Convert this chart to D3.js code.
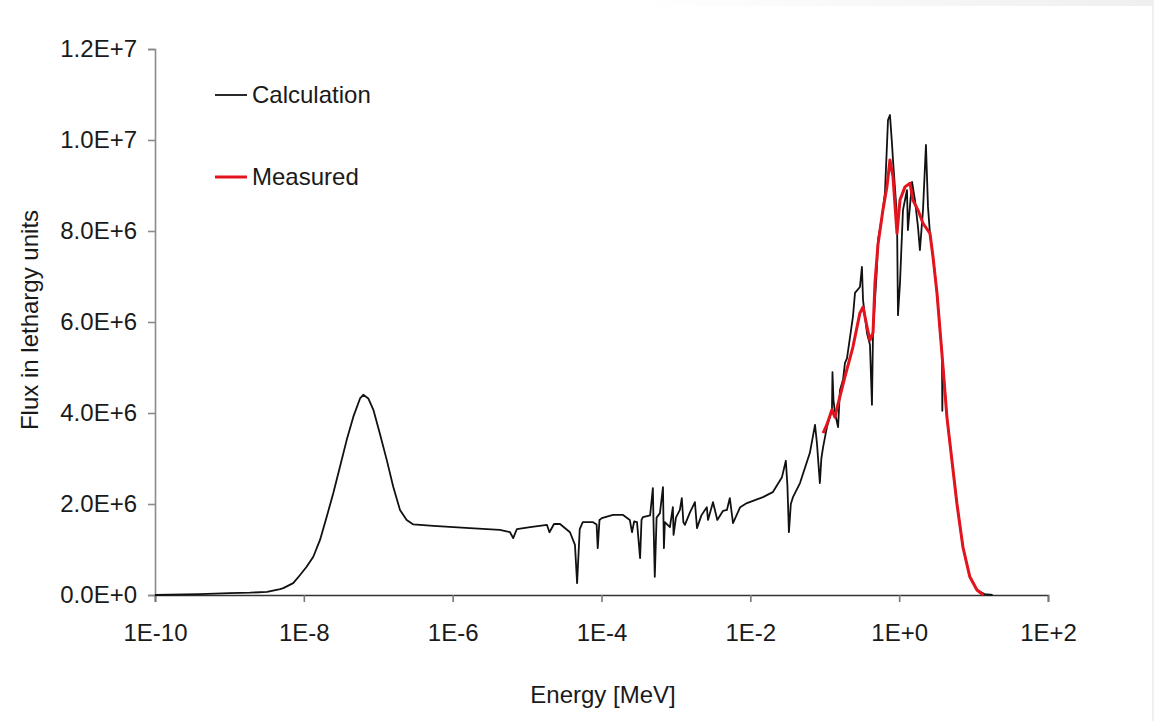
<!DOCTYPE html>
<html>
<head>
<meta charset="utf-8">
<script src="https://cdn.jsdelivr.net/npm/d3@7"></script>
<style>
  html, body { margin: 0; padding: 0; background: #fff; }
  svg { display: block; font-family: "Liberation Sans", Arial, sans-serif; }
</style>
</head>
<body>
<svg id="chart" width="1154" height="721"></svg>
<script>
// Flux values in millions (x 1E+6).
const calcEnergy = [
  1e-10, 4.0e-10, 1.0e-9, 1.9e-9, 3.2e-9, 4.8e-9, 5.3e-9, 7.2e-9, 8.9e-9, 1.09e-8,
  1.34e-8, 1.65e-8, 2.03e-8, 2.49e-8, 3.06e-8, 3.77e-8, 4.63e-8, 5.69e-8, 6.3e-8, 7.35e-8,
  8.6e-8, 1.05e-7, 1.3e-7, 1.59e-7, 1.96e-7, 2.41e-7, 2.96e-7, 5.5e-7, 1.7e-6, 4.3e-6,
  5.9e-6, 6.5e-6, 7.3e-6, 1.1e-5, 1.85e-5, 2.0e-5, 2.3e-5, 2.77e-5, 3.77e-5, 4.4e-5,
  4.7e-5, 5.1e-5, 5.6e-5, 7.7e-5, 8.6e-5, 8.9e-5, 9.4e-5, 1.01e-4, 1.43e-4, 1.95e-4,
  2.4e-4, 2.57e-4, 2.75e-4, 3.0e-4, 3.3e-4, 3.45e-4, 3.6e-4, 4.5e-4, 4.9e-4, 5.0e-4,
  5.2e-4, 5.5e-4, 6.1e-4, 6.7e-4, 6.9e-4, 7.1e-4, 8.3e-4, 9.1e-4, 9.3e-4, 1.0e-3,
  1.13e-3, 1.2e-3, 1.26e-3, 1.32e-3, 1.55e-3, 1.8e-3, 1.92e-3, 2.2e-3, 2.6e-3, 2.7e-3,
  3.15e-3, 3.6e-3, 4.3e-3, 4.85e-3, 5.3e-3, 5.85e-3, 7.3e-3, 9.0e-3, 1.48e-2, 2.0e-2,
  2.66e-2, 3.0e-2, 3.15e-2, 3.3e-2, 3.5e-2, 3.74e-2, 4.65e-2, 6.3e-2, 7.4e-2, 7.85e-2,
  8.6e-2, 9.0e-2, 9.5e-2, 0.107, 0.125, 0.127, 0.131, 0.137, 0.151, 0.16,
  0.176, 0.187, 0.199, 0.239, 0.255, 0.297, 0.316, 0.327, 0.369, 0.405,
  0.431, 0.445, 0.503, 0.519, 0.587, 0.644, 0.708, 0.752, 0.80, 0.826,
  0.935, 0.964, 1.026, 1.125, 1.273, 1.31, 1.49, 1.63, 1.79, 1.9,
  2.09, 2.29, 2.44, 2.59, 2.85, 3.22, 3.76, 3.80, 3.86, 4.39,
  5.98, 7.2, 8.9, 11.1, 14.0, 18.0
];
const calcFlux = [
  0.0, 0.02, 0.04, 0.05, 0.07, 0.13, 0.15, 0.26, 0.44, 0.62,
  0.84, 1.21, 1.72, 2.24, 2.82, 3.41, 3.92, 4.32, 4.40, 4.32,
  4.07, 3.55, 2.97, 2.38, 1.87, 1.65, 1.55, 1.52, 1.47, 1.43,
  1.38, 1.25, 1.45, 1.49, 1.54, 1.38, 1.56, 1.56, 1.38, 1.10,
  0.26, 1.45, 1.60, 1.60, 1.55, 1.03, 1.65, 1.69, 1.76, 1.76,
  1.65, 1.38, 1.62, 1.60, 0.81, 1.65, 1.71, 1.75, 2.35, 1.60,
  0.40, 1.70, 1.80, 2.37, 1.03, 1.60, 1.49, 1.93, 1.32, 1.70,
  1.87, 2.13, 1.60, 1.54, 1.82, 2.04, 1.47, 1.75, 1.93, 1.65,
  2.04, 1.65, 1.85, 1.87, 2.13, 1.58, 1.93, 2.02, 2.15, 2.26,
  2.59, 2.95, 2.40, 1.38, 2.00, 2.15, 2.46, 3.12, 3.74, 3.34,
  2.46, 3.00, 3.25, 3.69, 4.07, 4.90, 4.29, 4.00, 3.69, 4.50,
  4.73, 5.10, 5.20, 6.11, 6.64, 6.77, 7.21, 6.48, 5.76, 5.50,
  4.18, 5.76, 7.20, 7.80, 8.31, 8.84, 10.44, 10.55, 9.93, 9.56,
  8.31, 6.15, 6.86, 8.46, 8.90, 8.02, 9.08, 8.68, 8.09, 7.58,
  8.46, 9.89, 8.53, 7.96, 7.43, 6.64, 5.30, 4.05, 5.10, 3.90,
  2.00, 1.05, 0.40, 0.11, 0.02, 0.0
];

const measEnergy = [
  0.095, 0.107, 0.125, 0.137, 0.151, 0.187, 0.239, 0.297, 0.327, 0.369,
  0.405, 0.445, 0.473, 0.519, 0.605, 0.685, 0.752, 0.826, 0.935, 1.026,
  1.197, 1.40, 1.53, 1.79, 2.09, 2.59, 2.85, 3.22, 3.76, 4.39,
  5.98, 7.2, 8.9, 11.1, 13.5
];
const measFlux = [
  3.56, 3.75, 4.07, 3.91, 4.20, 4.80, 5.45, 6.20, 6.33, 5.90,
  5.60, 5.76, 6.86, 7.70, 8.46, 8.97, 9.56, 9.19, 7.95, 8.68,
  8.97, 9.05, 8.68, 8.46, 8.17, 7.95, 7.43, 6.64, 5.30, 3.90,
  2.00, 1.05, 0.40, 0.11, 0.0
];

const xTicks = [1e-10, 1e-8, 1e-6, 1e-4, 1e-2, 1e0, 1e2];
const xTickLabels = ["1E-10", "1E-8", "1E-6", "1E-4", "1E-2", "1E+0", "1E+2"];
const yTicks = [0, 2e6, 4e6, 6e6, 8e6, 1e7, 1.2e7];
const yTickLabels = ["0.0E+0", "2.0E+6", "4.0E+6", "6.0E+6", "8.0E+6", "1.0E+7", "1.2E+7"];

const series = [
  { name: "Calculation", energy: calcEnergy, flux: calcFlux, color: "#111111", width: 1.8 },
  { name: "Measured", energy: measEnergy, flux: measFlux, color: "#e3141e", width: 3 }
];

const svg = d3.select("#chart");

// Faint frame strip along the top and right of the screenshot.
const defs = svg.append("defs");
const grad = defs.append("linearGradient").attr("id", "topStrip");
grad.append("stop").attr("offset", "55%").attr("stop-color", "#ffffff");
grad.append("stop").attr("offset", "100%").attr("stop-color", "#efefef");
svg.append("rect").attr("x", 0).attr("y", 0).attr("width", 1154).attr("height", 6)
  .attr("fill", "url(#topStrip)");
svg.append("rect").attr("x", 1152).attr("y", 0).attr("width", 2).attr("height", 721)
  .attr("fill", "#f0f0f0");

const x = d3.scaleLog().domain([1e-10, 1e2]).range([155, 1048]);
const y = d3.scaleLinear().domain([0, 1.2e7]).range([595, 49]);

// Y axis
const yAxis = svg.append("g")
  .attr("transform", "translate(155,0)")
  .call(d3.axisLeft(y).tickValues(yTicks).tickSize(7).tickPadding(11)
    .tickFormat((d, i) => yTickLabels[i]));
yAxis.select(".domain").attr("stroke", "#8a8a8a").attr("stroke-width", 1.6);
yAxis.selectAll(".tick line").attr("stroke", "#8a8a8a").attr("stroke-width", 1.6);
yAxis.selectAll(".tick text").attr("font-size", 24).attr("fill", "#1a1a1a")
  .attr("font-family", "'Liberation Sans', Arial, sans-serif");

// X axis
const xAxis = svg.append("g")
  .attr("transform", "translate(0,595)")
  .call(d3.axisBottom(x).tickValues(xTicks).tickSize(7).tickPadding(22)
    .tickFormat((d, i) => xTickLabels[i]));
xAxis.select(".domain").attr("stroke", "#333").attr("stroke-width", 1.6);
xAxis.selectAll(".tick line").attr("stroke", "#777").attr("stroke-width", 1.6);
xAxis.selectAll(".tick text").attr("font-size", 24).attr("fill", "#1a1a1a")
  .attr("font-family", "'Liberation Sans', Arial, sans-serif");

// Lines
const line = d3.line()
  .x(d => x(d[0]))
  .y(d => y(d[1] * 1e6));

series.forEach(s => {
  const pts = s.energy.map((e, i) => [e, s.flux[i]]);
  svg.append("path")
    .datum(pts)
    .attr("d", line)
    .attr("fill", "none")
    .attr("stroke", s.color)
    .attr("stroke-width", s.width)
    .attr("stroke-linejoin", "round");
});

// Legend
const legend = svg.append("g");
series.forEach((s, i) => {
  const ly = 95 + i * 82;
  legend.append("line")
    .attr("x1", 215).attr("x2", 247).attr("y1", ly).attr("y2", ly)
    .attr("stroke", s.color).attr("stroke-width", s.width);
  legend.append("text")
    .attr("x", 252).attr("y", ly).attr("dy", "0.35em")
    .attr("font-size", 24).attr("fill", "#1a1a1a")
    .text(s.name);
});

// Axis titles
svg.append("text")
  .attr("x", 603).attr("y", 703)
  .attr("text-anchor", "middle")
  .attr("font-size", 24).attr("fill", "#1a1a1a")
  .text("Energy [MeV]");

svg.append("text")
  .attr("transform", "translate(38,320) rotate(-90)")
  .attr("text-anchor", "middle")
  .attr("font-size", 24).attr("fill", "#1a1a1a")
  .text("Flux in lethargy units");
</script>
</body>
</html>
